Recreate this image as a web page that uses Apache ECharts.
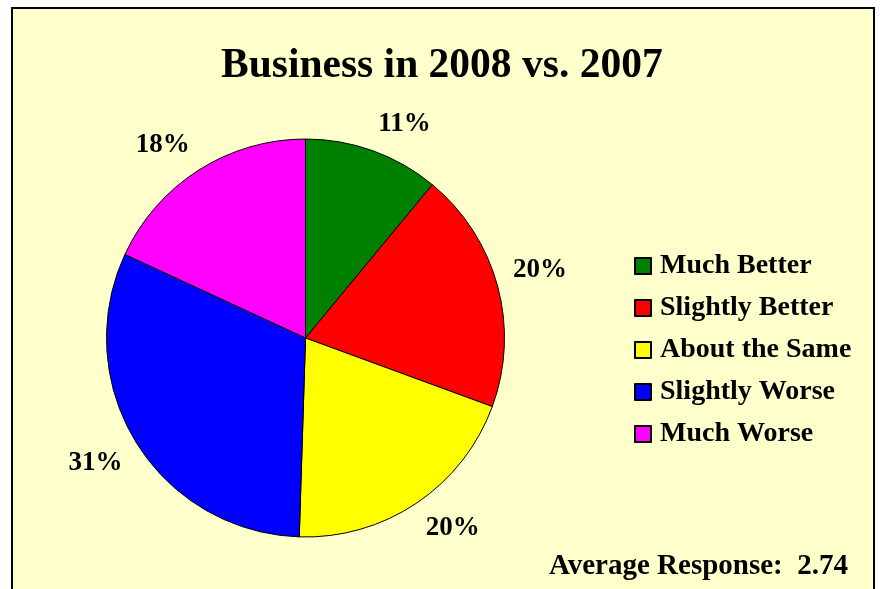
<!DOCTYPE html>
<html>
<head>
<meta charset="utf-8">
<script src="https://cdn.jsdelivr.net/npm/echarts@6/dist/echarts.min.js"></script>
<style>
	html, body { margin: 0; padding: 0; background: #fff; }
	#chart { width: 880px; height: 589px; }
</style>
</head>
<body>
<div id="chart"></div>
<script>
var categories = ['Much Better', 'Slightly Better', 'About the Same', 'Slightly Worse', 'Much Worse'];
var shares = [11, 19.6, 19.9, 31.4, 18.1];
var colors = ['#008000', '#ff0000', '#ffff00', '#0000ff', '#ff00ff'];
var avgText = 'Average Response:  2.74';

var serif = '"Liberation Serif", "Times New Roman", serif';
var pieCenter = [305.5, 338];
var pieRadius = 199;

var getPieData = function(names, values) {
	var rtn = [];
	names.forEach(function(name, i) {
		rtn.push({ name: name, value: values[i], itemStyle: { color: colors[i] } });
	});
	return rtn;
};

// mid angle of each slice, clockwise from 12 o'clock (radians)
var midAngles = (function() {
	var total = 0, acc = 0, rtn = [];
	shares.forEach(function(v) { total += v; });
	shares.forEach(function(v) {
		rtn.push((acc + v / 2) / total * Math.PI * 2);
		acc += v;
	});
	return rtn;
})();

// excel style: label box corner sits just outside the pie edge
var placeLabel = function(params) {
	var a = midAngles[params.dataIndex];
	var sx = Math.sin(a), sy = -Math.cos(a);
	var r = pieRadius + 16;
	var w = params.labelRect.width;
	return {
		x: pieCenter[0] + r * sx + (sx < 0 ? -1 : 1) * w / 2,
		y: pieCenter[1] + r * sy + (sy < 0 ? -1 : 1) * 12
	};
};

var chart = echarts.init(document.getElementById('chart'));

var option = {
	backgroundColor: '#ffffff',
	animation: false,
	title: {
		text: 'Business in 2008 vs. 2007',
		left: 216,
		top: 40,
		textStyle: { fontFamily: serif, fontSize: 41.5, fontWeight: 'bold', color: '#000' }
	},
	graphic: [
		{
			type: 'rect',
			z: -10,
			shape: { x: 12, y: 8, width: 862, height: 620 },
			style: { fill: '#ffffcc', stroke: '#000', lineWidth: 2 }
		},
		{
			type: 'text',
			right: 32,
			top: 552,
			style: {
				text: avgText,
				font: 'bold 29px ' + serif,
				fill: '#000'
			}
		}
	],
	legend: {
		orient: 'vertical',
		left: 634,
		top: 252,
		padding: 0,
		itemWidth: 16,
		itemHeight: 16,
		itemGap: 14,
		icon: 'rect',
		selectedMode: false,
		data: categories,
		textStyle: { fontFamily: serif, fontSize: 28, fontWeight: 'bold', color: '#000', lineHeight: 28, padding: [0, 0, 0, 4] }
	},
	series: [
		{
			name: 'pie',
			type: 'pie',
			center: pieCenter,
			radius: [0, pieRadius],
			startAngle: 90,
			clockwise: true,
			silent: true,
			avoidLabelOverlap: false,
			itemStyle: { borderColor: '#000', borderWidth: 1 },
			label: {
				show: true,
				position: 'inside',
				fontFamily: serif,
				fontSize: 27,
				fontWeight: 'bold',
				color: '#000',
				formatter: function(p) { return Math.round(p.percent) + '%'; }
			},
			labelLine: { show: false },
			labelLayout: placeLabel,
			data: getPieData(categories, shares)
		}
	]
};

chart.setOption(option, true);
</script>
</body>
</html>
